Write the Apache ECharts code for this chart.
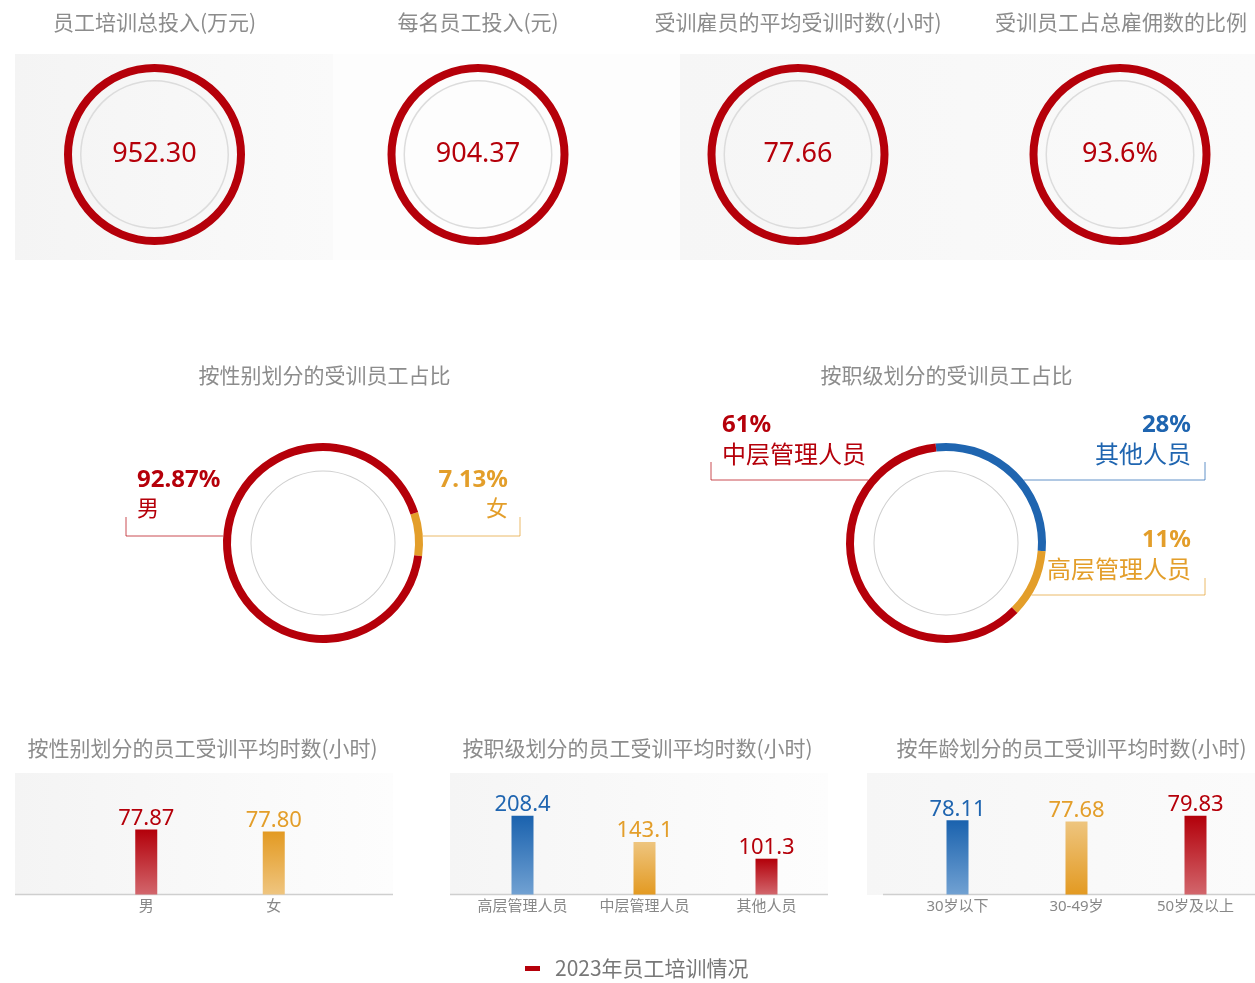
<!DOCTYPE html>
<html>
<head>
<meta charset="utf-8">
<script src="https://cdn.jsdelivr.net/npm/echarts@6/dist/echarts.min.js"></script>
<style>
  html, body { margin: 0; padding: 0; background: #fff; }
  #main { width: 1255px; height: 983px; }
</style>
</head>
<body>
<div id="main"></div>
<script>
// KPI circles on top
const kpiTitles = ['员工培训总投入(万元)', '每名员工投入(元)', '受训雇员的平均受训时数(小时)', '受训员工占总雇佣数的比例'];
const kpiValues = [952.30, 904.37, 77.66, 93.6];
const kpiDigits = [2, 2, 2, 1];
const kpiSuffix = ['', '', '', '%'];

// share of trained employees
const genderShareNames = ['女', '男'];
const genderShare = [7.13, 92.87];
const levelShareNames = ['其他人员', '高层管理人员', '中层管理人员'];
const levelShare = [28, 11, 61];

// average training hours
const genderCats = ['男', '女'];
const genderHours = [77.87, 77.80];
const levelCats = ['高层管理人员', '中层管理人员', '其他人员'];
const levelHours = [208.4, 143.1, 101.3];
const ageCats = ['30岁以下', '30-49岁', '50岁及以上'];
const ageHours = [78.11, 77.68, 79.83];

const legendName = '2023年员工培训情况';

const RED = '#b5000a', ORANGE = '#e39e2a', BLUE = '#1f65b0';
const FONT = "'Noto Sans', 'Noto Sans CJK SC', sans-serif";
const CJK = "'Noto Sans CJK SC', sans-serif";
const TITLE_COLOR = '#8c8c8c';

function grad(top, bottom) {
    return new echarts.graphic.LinearGradient(0, 0, 0, 1, [
        { offset: 0, color: top },
        { offset: 1, color: bottom }
    ]);
}
const redDown = () => grad('#b3000a', '#d2666c');
const orangeDown = () => grad('#e39a22', '#efc57f');
const orangeUp = () => grad('#eec57f', '#e39a22');
const blueDown = () => grad('#1a62ae', '#71a1d2');

function hGrad(left, right) {
    return new echarts.graphic.LinearGradient(0, 0, 1, 0, [
        { offset: 0, color: left },
        { offset: 1, color: right }
    ]);
}

let myChart = echarts.init(document.getElementById('main'));

// titles
let titles = [];
const kpiX = [154.5, 478, 798, 1120];
kpiTitles.forEach((t, i) => titles.push({ text: t, x: i === 3 ? 1121 : kpiX[i], y: 12 }));
titles.push({ text: '按性别划分的受训员工占比', x: 324.5, y: 365 });
titles.push({ text: '按职级划分的受训员工占比', x: 946.5, y: 365 });
titles.push({ text: '按性别划分的员工受训平均时数(小时)', x: 202.5, y: 738 });
titles.push({ text: '按职级划分的员工受训平均时数(小时)', x: 637.5, y: 738 });
titles.push({ text: '按年龄划分的员工受训平均时数(小时)', x: 1071.5, y: 738 });
titles = titles.map(t => ({
    text: t.text, left: t.x, top: t.y, textAlign: 'center', padding: 0,
    textStyle: { fontFamily: CJK, fontSize: 21, fontWeight: 'normal', color: TITLE_COLOR }
}));

let series = [];

// KPI rings
kpiValues.forEach((v, i) => {
    series.push({
        type: 'pie', silent: true, center: [kpiX[i], 154.5], radius: [73, 74.5],
        label: { show: false }, labelLine: { show: false },
        data: [{ value: 1, itemStyle: { color: '#dcdcdc' } }]
    });
    series.push({
        type: 'pie', silent: true, center: [kpiX[i], 154.5], radius: [82.5, 90.5],
        labelLine: { show: false },
        label: {
            show: true, position: 'center', padding: [0, 0, 17, 0],
            fontFamily: FONT, fontSize: 27, color: RED,
            formatter: () => v.toFixed(kpiDigits[i]) + kpiSuffix[i]
        },
        data: [{ value: v, name: kpiTitles[i], itemStyle: { color: RED } }]
    });
});

// label placement for the share donuts
function makeLayout(cx, cy, r, pos) {
    return function (params) {
        const p = pos[params.dataIndex];
        const dy = p.lineY - cy;
        const dx = Math.sqrt(r * r - dy * dy);
        const edgeX = p.side === 'left' ? cx - dx : cx + dx;
        return {
            x: p.textX, y: p.textTop,
            align: p.side, verticalAlign: 'top',
            labelLinePoints: [[edgeX, p.lineY], [p.tickX, p.lineY], [p.tickX, p.tickTop]]
        };
    };
}

function shareSeries(cx, cy, names, values, colors, startAngle, pos, pSize, nSize, lineHeight) {
    series.push({
        type: 'pie', silent: true, center: [cx, cy], radius: [71.5, 72.5],
        label: { show: false }, labelLine: { show: false },
        data: [{ value: 1, itemStyle: { color: '#cfcfcf' } }]
    });
    series.push({
        type: 'pie', silent: true, center: [cx, cy], radius: [92, 100],
        startAngle: startAngle, avoidLabelOverlap: false,
        label: {
            show: true, position: 'outside',
            formatter: '{p|{c}%}\n{n|{b}}',
            rich: {
                p: { fontFamily: FONT, fontSize: pSize, fontWeight: 'bold', lineHeight: lineHeight },
                n: { fontFamily: FONT, fontSize: nSize, lineHeight: lineHeight }
            }
        },
        labelLine: { show: true, lineStyle: { width: 1 } },
        labelLayout: makeLayout(cx, cy, 100, pos),
        data: names.map((n, i) => ({
            name: n, value: values[i],
            itemStyle: { color: colors[i] },
            label: { color: colors[i], align: pos[i].side },
            labelLine: { lineStyle: { color: colors[i], opacity: 0.7 } }
        }))
    });
}

shareSeries(323, 543, genderShareNames, genderShare, [ORANGE, RED], 18, [
    { side: 'right', lineY: 536, tickX: 520, tickTop: 517, textX: 508, textTop: 465 },
    { side: 'left', lineY: 536, tickX: 126, tickTop: 517, textX: 137, textTop: 465 }
], 24, 22, 30);

shareSeries(946, 543, levelShareNames, levelShare, [BLUE, ORANGE, RED], 96, [
    { side: 'right', lineY: 480, tickX: 1205, tickTop: 462, textX: 1191, textTop: 410 },
    { side: 'right', lineY: 595, tickX: 1205, tickTop: 578, textX: 1191, textTop: 525 },
    { side: 'left', lineY: 480, tickX: 711, tickTop: 462, textX: 722, textTop: 410 }
], 24, 24, 31);

// bar charts
const grids = [
    { left: 82.5, width: 255, top: 773, height: 121.5 },
    { left: 461.5, width: 366, top: 773, height: 121.5 },
    { left: 898, width: 357, top: 773, height: 121.5 }
];
const barCats = [genderCats, levelCats, ageCats];
const barVals = [genderHours, levelHours, ageHours];
const barDigits = [2, 1, 2];
const barFills = [[redDown, orangeDown], [blueDown, orangeUp, redDown], [blueDown, orangeUp, redDown]];
const barText = [[RED, ORANGE], [BLUE, ORANGE, RED], [BLUE, ORANGE, RED]];
const yRange = [[75.6, 79.85], [12, 315], [50.3, 95.85]];

let xAxes = [], yAxes = [];
barCats.forEach((cats, g) => {
    xAxes.push({
        type: 'category', gridIndex: g, data: cats,
        axisLine: { show: false }, axisTick: { show: false },
        axisLabel: { fontFamily: FONT, fontSize: 15, color: '#888', margin: 5 }
    });
    yAxes.push({
        type: 'value', gridIndex: g, min: yRange[g][0], max: yRange[g][1], show: false,
        splitLine: { show: false }
    });
    series.push({
        name: legendName, type: 'bar', xAxisIndex: g, yAxisIndex: g, barWidth: 22,
        label: {
            show: true, position: 'top', distance: 0, fontFamily: FONT, fontSize: 22,
            formatter: p => p.value.toFixed(barDigits[g])
        },
        data: barVals[g].map((v, i) => ({
            value: v,
            itemStyle: { color: barFills[g][i]() },
            label: { color: barText[g][i] }
        }))
    });
});

// background panels and base lines
const graphic = [
    { type: 'rect', z: -10, shape: { x: 15, y: 54, width: 318, height: 206 }, style: { fill: hGrad('#f4f4f4', '#fafafa') } },
    { type: 'rect', z: -10, shape: { x: 333, y: 54, width: 347, height: 206 }, style: { fill: '#fdfdfd' } },
    { type: 'rect', z: -10, shape: { x: 680, y: 54, width: 575, height: 206 }, style: { fill: hGrad('#f6f6f6', '#fafafa') } },
    { type: 'rect', z: -10, shape: { x: 15, y: 773, width: 378, height: 122 }, style: { fill: hGrad('#f4f4f4', '#fdfdfd') } },
    { type: 'rect', z: -10, shape: { x: 450, y: 773, width: 378, height: 122 }, style: { fill: hGrad('#f5f5f5', '#fdfdfd') } },
    { type: 'rect', z: -10, shape: { x: 867, y: 773, width: 388, height: 122 }, style: { fill: hGrad('#f6f6f6', '#fbfbfb') } },
    { type: 'line', z: -5, shape: { x1: 15, y1: 894.5, x2: 393, y2: 894.5 }, style: { stroke: '#cfcfcf', lineWidth: 1.5 } },
    { type: 'line', z: -5, shape: { x1: 450, y1: 894.5, x2: 828, y2: 894.5 }, style: { stroke: '#cfcfcf', lineWidth: 1.5 } },
    { type: 'line', z: -5, shape: { x1: 883, y1: 894.5, x2: 1255, y2: 894.5 }, style: { stroke: '#cfcfcf', lineWidth: 1.5 } }
];

let option = {
    animation: false,
    title: titles,
    legend: {
        left: 525, top: 958, padding: 0, icon: 'rect', itemWidth: 15, itemHeight: 5,
        data: [{ name: legendName, itemStyle: { color: RED } }],
        selectedMode: false,
        textStyle: { fontFamily: CJK, fontSize: 21, color: '#777', padding: [0, 0, 0, 10] }
    },
    grid: grids,
    xAxis: xAxes,
    yAxis: yAxes,
    graphic: graphic,
    series: series
};
myChart.setOption(option);
</script>
</body>
</html>
